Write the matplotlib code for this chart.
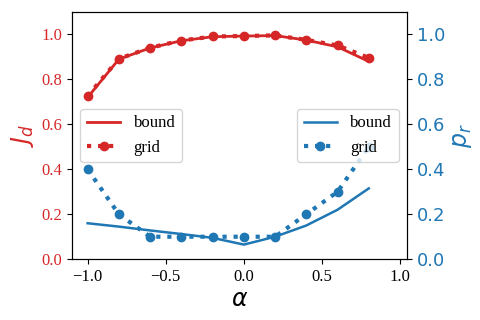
import numpy as np
import matplotlib
matplotlib.use('Agg')
import matplotlib.pyplot as plt

plt.rcParams['font.family'] = ['Liberation Serif', 'DejaVu Serif']
plt.rcParams['mathtext.fontset'] = 'dejavusans'

alpha = [-1.0, -0.8, -0.6, -0.4, -0.2, 0.0, 0.2, 0.4, 0.6, 0.8]
jd_bound = [0.72, 0.89, 0.94, 0.972, 0.99, 0.993, 0.995, 0.975, 0.945, 0.88]
jd_grid = [0.726, 0.892, 0.941, 0.973, 0.991, 0.993, 0.996, 0.976, 0.951, 0.896]
pr_bound = [0.16, 0.145, 0.128, 0.112, 0.095, 0.065, 0.1, 0.15, 0.22, 0.315]
pr_grid = [0.4, 0.2, 0.1, 0.1, 0.1, 0.1, 0.1, 0.2, 0.3, 0.5]

red = '#d62728'
blue = '#1f77b4'

fig = plt.figure(figsize=(4.8, 3.2), dpi=100)
ax1 = fig.add_axes([0.15, 0.19, 0.698, 0.7725])
ax1.plot(alpha, jd_bound, '-', color=red, lw=2, label='bound')
ax1.plot(alpha, jd_grid, ':', color=red, lw=3, marker='o', ms=6, label='grid')
ax1.set_ylim(0, 1.1)
ax1.set_xlim(-1.1, 1.045)
ax1.set_xlabel(r'$\alpha$', fontsize=17)
ax1.set_ylabel(r'$J_d$', fontsize=17, color=red)
ax1.tick_params(axis='y', labelcolor=red, labelsize=12)
ax1.tick_params(axis='x', labelsize=12)
ax1.legend(loc='center left', fontsize=12)

ax2 = ax1.twinx()
ax2.plot(alpha, pr_bound, '-', color=blue, lw=1.8, label='bound')
ax2.plot(alpha, pr_grid, ':', color=blue, lw=3, marker='o', ms=6, label='grid')
ax2.set_ylim(0, 1.1)
ax2.set_ylabel(r'$p_r$', fontsize=17, color=blue)
ax2.tick_params(axis='y', labelcolor=blue, labelsize=13)
for t in ax2.get_yticklabels():
    t.set_fontfamily('DejaVu Sans')
ax2.legend(loc='center right', fontsize=12)

fig.savefig('out.png', dpi=100)
